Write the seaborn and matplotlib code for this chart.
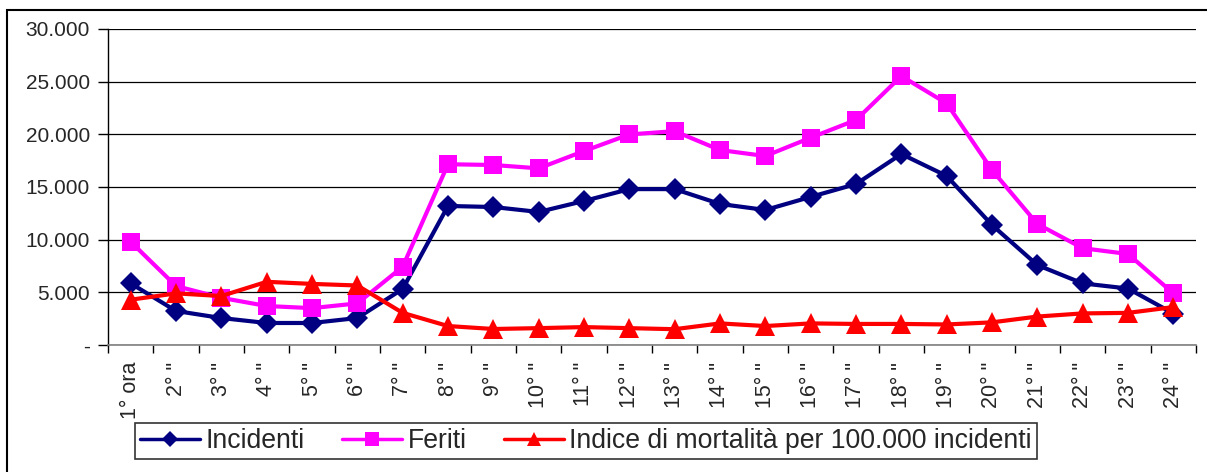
import pandas as pd
import matplotlib.pyplot as plt
import seaborn as sns
from matplotlib.ticker import FuncFormatter, FixedLocator
from matplotlib.patches import Rectangle

ore = ['1° ora', '2° "', '3° "', '4° "', '5° "', '6° "', '7° "', '8° "',
       '9° "', '10° "', '11° "', '12° "', '13° "', '14° "', '15° "', '16° "',
       '17° "', '18° "', '19° "', '20° "', '21° "', '22° "', '23° "', '24° "']

incidenti = [5850, 3230, 2560, 2090, 2090, 2560, 5320, 13200, 13100, 12630,
             13670, 14800, 14800, 13390, 12820, 14060, 15280, 18130, 16050,
             11390, 7590, 5850, 5360, 2990]
feriti = [9800, 5600, 4480, 3700, 3500, 3950, 7430, 17160, 17090, 16770,
          18410, 19990, 20300, 18510, 17940, 19680, 21360, 25530, 22940,
          16610, 11490, 9190, 8640, 4900]
mortalita = [4300, 4900, 4650, 6000, 5800, 5650, 3050, 1800, 1520, 1600,
             1700, 1600, 1500, 2050, 1800, 2050, 2000, 2000, 1950, 2150,
             2700, 3000, 3050, 3600]

df = pd.DataFrame({'pos': range(len(ore)), 'ora': ore, 'Incidenti': incidenti,
                   'Feriti': feriti, 'Indice di mortalità per 100.000 incidenti': mortalita})

sns.set_theme(style="white")
plt.rcParams['font.family'] = ['Liberation Sans', 'DejaVu Sans']

fig = plt.figure(figsize=(12.07, 4.72), dpi=100)
ax = fig.add_axes([108 / 1207, 1 - 345 / 472, (1196 - 108) / 1207, (345 - 29) / 472])

serie = [('Incidenti', '#000080', 'D', 11),
         ('Feriti', '#FF00FF', 's', 12.5),
         ('Indice di mortalità per 100.000 incidenti', '#FF0000', '^', 14.0)]
for nome, colore, marker, ms in serie:
    sns.lineplot(data=df, x='pos', y=nome, ax=ax, color=colore, linewidth=3,
                 marker=marker, markersize=ms, markeredgecolor=colore,
                 markeredgewidth=0, label=nome, legend=False)

ax.set_xlim(-0.5, len(ore) - 0.5)
ax.set_ylim(0, 30000)
ax.set_yticks(range(0, 30001, 5000))
ax.yaxis.set_major_formatter(FuncFormatter(
    lambda v, p: '-' if v == 0 else f'{int(v):,}'.replace(',', '.')))
ax.grid(axis='y', color='black', linewidth=0.9)
ax.set_axisbelow(True)

ax.set_xticks(range(len(ore)))
ax.set_xticklabels(ore, rotation=90)
ax.xaxis.set_minor_locator(FixedLocator([i - 0.5 for i in range(len(ore) + 1)]))
ax.tick_params(axis='x', which='major', length=0, pad=12, labelsize=15.5)
ax.tick_params(axis='x', which='minor', length=6, width=1, color='black',
               direction='out', bottom=True)
ax.tick_params(axis='y', length=7, width=1, color='black', direction='out',
               left=True, pad=6, labelsize=15)
ax.set_xlabel('')
ax.set_ylabel('')

for s in ['top', 'right']:
    ax.spines[s].set_visible(False)
ax.spines['left'].set_color('black')
ax.spines['bottom'].set_color('#808080')
ax.spines['left'].set_linewidth(1)
ax.spines['bottom'].set_linewidth(1.2)

handles, labels = ax.get_legend_handles_labels()
leg = fig.legend(handles, labels, loc='center', bbox_to_anchor=(586 / 1207, 1 - 441 / 472),
                 ncol=3, fontsize=19.2, frameon=True, fancybox=False, edgecolor='black',
                 handlelength=2.25, handletextpad=0.2, columnspacing=1.4,
                 borderpad=0.2, borderaxespad=0, markerscale=0.75)
leg.get_frame().set_linewidth(1.2)
for h in leg.legend_handles:
    h.set_linewidth(2.5)

fig.patches.append(Rectangle((7 / 1207, -0.05), 1.2, 1 - 10 / 472 + 0.05,
                             transform=fig.transFigure, fill=False,
                             edgecolor='black', linewidth=1.5))

fig.savefig('out.png', dpi=100)
